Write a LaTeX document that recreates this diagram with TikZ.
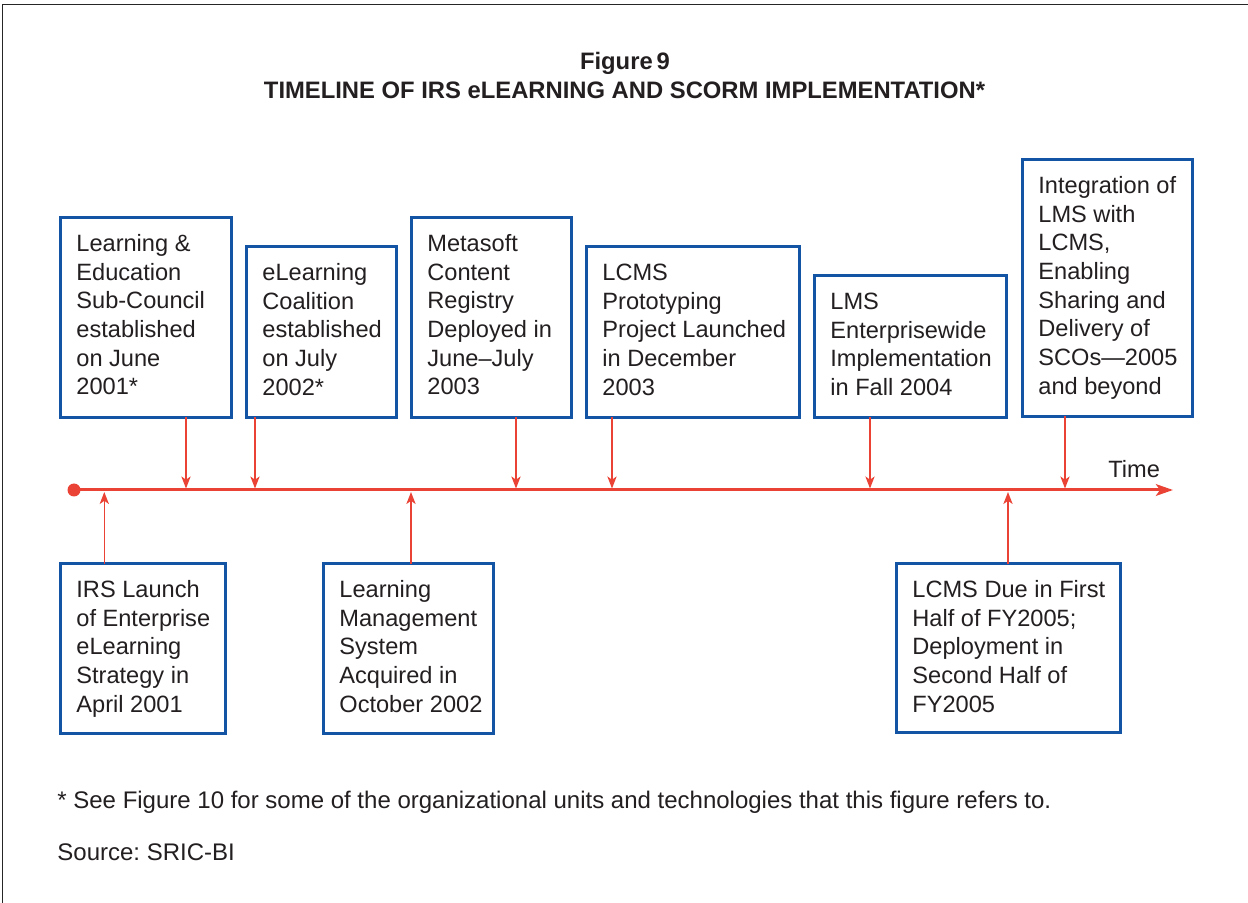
\documentclass[tikz,border=0pt]{standalone}
\usepackage{fontspec}
\setmainfont{Liberation Sans}
\usetikzlibrary{arrows.meta}
\frenchspacing
\definecolor{tlred}{RGB}{234,67,53}
\definecolor{boxblue}{RGB}{20,84,164}
\definecolor{txtgray}{RGB}{35,31,32}
\tikzset{
  box/.style={draw=boxblue, line width=1.5pt, rectangle, inner sep=0pt, outer sep=0pt, anchor=north west},
  boxtext/.style={anchor=base west, align=left, inner sep=0pt, text=txtgray, font=\fontsize{11.8}{14.35}\selectfont},
  evarrow/.style={draw=tlred, line width=0.75pt, -{Stealth[length=6pt,width=4.6pt,inset=1.6pt]}},
  timeline/.style={draw=tlred, line width=1.5pt, -{Stealth[length=8.5pt,width=5.8pt,inset=2pt]}},
  startdot/.style={circle, fill=tlred, inner sep=0pt, minimum size=6.5pt},
  frameline/.style={draw=black!85, line width=0.6pt},
  titletext/.style={font=\bfseries\fontsize{11.9}{14}\selectfont, text=txtgray, inner sep=0pt},
  notetext/.style={anchor=base west, inner sep=0pt, text=txtgray, font=\fontsize{12}{14.4}\selectfont}
}
\begin{document}
\begin{tikzpicture}[x=0.5pt, y=-0.5pt]
\useasboundingbox (0,0) rectangle (1248,903);
\fill[white] (0,0) rectangle (1248,903);
\draw[frameline] (2.5,903) -- (2.5,4.5) -- (1248,4.5);

% title
\node[titletext, anchor=base] (title1) at (625,70) {Figure\,9};
\node[titletext, anchor=base] (title2) at (624.5,99) {TIMELINE OF IRS eLEARNING AND SCORM IMPLEMENTATION*};

% timeline
\node[startdot] (start) at (74,490) {};
\coordinate (tend) at (1173,490);
\draw[timeline] (start.center) -- (tend);
\node[notetext, font=\fontsize{11.8}{14.35}\selectfont] (timelbl) at (1108,478) {Time};

% upper boxes (text anchored at the baseline of its last line)
\node[box, minimum width=85.5pt, minimum height=100pt] (a1) at (60.5,217.5) {};
\node[boxtext] (a1t) at (76,395) {Learning \&\\Education\\Sub-Council\\established\\on June\\2001*};
\node[box, minimum width=75pt, minimum height=85.5pt] (a2) at (246.5,246.5) {};
\node[boxtext] (a2t) at (262,395.3) {eLearning\\Coalition\\established\\on July\\2002*};
\node[box, minimum width=80pt, minimum height=100pt] (a3) at (411.5,217.5) {};
\node[boxtext] (a3t) at (427,395) {Metasoft\\Content\\Registry\\Deployed in\\June–July\\2003};
\node[box, minimum width=106.5pt, minimum height=85.5pt] (a4) at (586.5,246.5) {};
\node[boxtext] (a4t) at (602,395.3) {LCMS\\Prototyping\\Project Launched\\in December\\2003};
\node[box, minimum width=96pt, minimum height=71pt] (a5) at (814.5,275.5) {};
\node[boxtext] (a5t) at (830,395.6) {LMS\\Enterprisewide\\Implementation\\in Fall 2004};
\node[box, minimum width=85pt, minimum height=128.5pt] (a6) at (1022.5,159.5) {};
\node[boxtext] (a6t) at (1038,394.4) {Integration of\\LMS with\\LCMS,\\Enabling\\Sharing and\\Delivery of\\SCOs—2005\\and beyond};

% lower boxes
\node[box, minimum width=82.5pt, minimum height=85pt] (b1) at (60.5,563.5) {};
\node[boxtext] (b1t) at (76,712.3) {IRS Launch\\of Enterprise\\eLearning\\Strategy in\\April 2001};
\node[box, minimum width=85pt, minimum height=85pt] (b2) at (323.5,563.5) {};
\node[boxtext] (b2t) at (339,712.3) {Learning\\Management\\System\\Acquired in\\October 2002};
\node[box, minimum width=112pt, minimum height=84.5pt] (b3) at (896.5,563.5) {};
\node[boxtext] (b3t) at (912,712.3) {LCMS Due in First\\Half of FY2005;\\Deployment in\\Second Half of\\FY2005};

% arrow tips on the timeline
\coordinate (ta1) at (186,488.5);
\coordinate (ta2) at (255,488.5);
\coordinate (ta3) at (516,488.5);
\coordinate (ta4) at (612,488.5);
\coordinate (ta5) at (870,488.5);
\coordinate (ta6) at (1065,488.5);
\coordinate (tb1) at (104.3,492);
\coordinate (tb2) at (411,492);
\coordinate (tb3) at (1008,492);

\draw[evarrow] (a1.south -| ta1) -- (ta1);
\draw[evarrow] (a2.south -| ta2) -- (ta2);
\draw[evarrow] (a3.south -| ta3) -- (ta3);
\draw[evarrow] (a4.south -| ta4) -- (ta4);
\draw[evarrow] (a5.south -| ta5) -- (ta5);
\draw[evarrow] (a6.south -| ta6) -- (ta6);
\draw[evarrow] (b1.north -| tb1) -- (tb1);
\draw[evarrow] (b2.north -| tb2) -- (tb2);
\draw[evarrow] (b3.north -| tb3) -- (tb3);

% notes
\node[notetext] (note) at (57,808) {* See Figure 10 for some of the organizational units and technologies that this figure refers to.};
\node[notetext] (source) at (57,860) {Source: SRIC-BI};
\end{tikzpicture}
\end{document}
